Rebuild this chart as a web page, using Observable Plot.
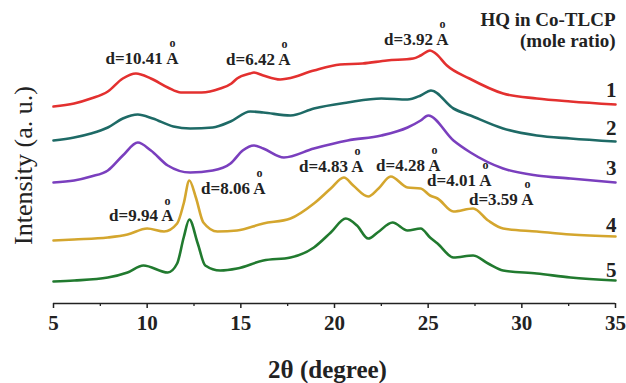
<!DOCTYPE html>
<html><head><meta charset="utf-8">
<script src="https://cdn.jsdelivr.net/npm/d3@7"></script>
<script src="https://cdn.jsdelivr.net/npm/@observablehq/plot@0.6"></script>
<style>body{margin:0;background:#fff} svg{display:block} svg text{font-family:"Liberation Serif","Times New Roman",serif !important}</style>
</head><body><div id="chart"></div>
<script>
// 2θ (degree), intensity (a.u., offset stacked)
const curve1 = [[5.0,197],[6.1,200],[7.0,205],[7.9,212],[8.7,225],[9.4,230],[10.2,225],[11.1,216],[11.8,211],[12.9,211],[13.9,215],[14.5,220],[14.8,225],[15.5,230],[15.7,231],[16.2,228],[17.1,224],[17.5,225],[18.9,233],[20.3,239],[21.5,240],[22.8,243],[24.2,245],[24.6,248],[25.1,253],[25.4,250],[26.0,238],[27.2,225],[29.0,210],[30.8,205],[32.6,202],[35.0,199]];
const curve2 = [[5.0,163],[6.1,166],[7.0,170],[7.9,176],[8.7,185],[9.5,189],[10.3,185],[11.4,177],[12.3,175],[13.5,176],[14.45,182],[15.5,192],[16.2,191],[17.65,188],[18.9,195],[20.7,201],[22.5,205],[23.9,204],[24.6,208],[25.15,213],[26.35,195],[27.26,188],[29.0,175],[30.8,168],[32.6,165],[35.0,162]];
const curve3 = [[5.0,121],[6.1,123],[7.0,127],[7.9,133],[8.7,148],[9.5,161],[10.2,153],[11.1,138],[12.3,131],[13.5,133],[14.45,140],[15.1,153],[15.7,158],[16.2,155],[17.3,146],[18.9,155],[20.7,163],[22.5,168],[23.9,176],[24.6,183],[25.0,188],[26.35,163],[27.26,151],[29.0,135],[30.8,128],[32.6,125],[35.0,121]];
const curve4 = [[5.0,63],[6.1,64],[7.9,66],[8.95,69],[10.0,75],[10.9,72],[11.6,80],[11.95,100],[12.25,123],[12.6,106],[13.0,81],[13.75,72],[14.8,73],[16.2,80],[17.65,85],[18.9,100],[19.8,115],[20.5,126],[21.0,118],[21.8,107],[22.35,115],[23.0,127],[23.9,116],[24.6,115],[25.1,108],[25.5,105],[26.35,92],[27.4,95],[28.2,83],[29.0,75],[30.8,72],[32.6,69],[35.0,67]];
const curve5 = [[5.0,22],[6.1,23],[7.9,26],[8.95,31],[9.8,38],[11.1,31],[11.6,40],[11.95,66],[12.25,84],[12.7,60],[13.1,38],[13.9,33],[14.8,35],[16.2,43],[17.65,46],[18.9,56],[19.8,71],[20.6,85],[21.2,78],[21.8,65],[22.3,71],[23.1,81],[23.9,73],[24.6,75],[25.1,66],[25.5,60],[26.35,46],[27.4,48],[28.2,40],[29.0,33],[30.8,30],[32.6,26],[35.0,23]];

const seriesNames = ["1","2","3","4","5"];
const seriesColors = ["#e3302f","#1e6a66","#7a3fbe","#d4a62e","#217a2f"];
const seriesLabelY = [213,175,135,78,33];

const majorTicks = [5,10,15,20,25,30,35];
const minorTicks = [7.5,12.5,17.5,22.5,27.5,32.5];

// d-spacing annotations: text end position (2θ, intensity)
const annoText = ["d=10.41 A","d=6.42 A","d=3.92 A","d=8.06 A","d=9.94 A","d=4.83 A","d=4.28 A","d=4.01 A","d=3.59 A"];
const annoX = [11.67,17.65,26.09,16.32,11.41,21.55,25.66,28.38,30.62];
const annoY = [245,244,264,115,87.5,137,138,123,104];

const legendLines = ["HQ in Co-TLCP","(mole ratio)"];
const legendY = [284,263];

const table = [curve1,curve2,curve3,curve4,curve5].flatMap((c,i) =>
  c.map(([x,y]) => ({series: seriesNames[i], x, y})));
const annos = annoText.map((t,i) => ({label: t, x: annoX[i], y: annoY[i]}));
const labels = seriesNames.map((s,i) => ({s, y: seriesLabelY[i]}));
const legend = legendLines.map((t,i) => ({t, y: legendY[i]}));

const font = "Liberation Serif";
const chart = Plot.plot({
  width: 626, height: 383,
  marginLeft: 53, marginRight: 11, marginTop: 43, marginBottom: 80,
  style: {fontFamily: font, background: "white", overflow: "visible", color: "#222"},
  x: {domain: [5,35]},
  y: {domain: [0,260], axis: null},
  color: {domain: seriesNames, range: seriesColors},
  marks: [
    Plot.axisX(majorTicks, {tickSize: 5, tickPadding: 7, fontSize: 21, fontWeight: "bold", fontFamily: font, label: null, strokeWidth: 1.5}),
    Plot.axisX(minorTicks, {tickSize: 3, tickFormat: () => "", label: null, strokeWidth: 1.3}),
    Plot.ruleY([0], {stroke: "#222", strokeWidth: 1.6}),
    Plot.line(table, {x: "x", y: "y", z: "series", stroke: "series", curve: "monotone-x", strokeWidth: 2.6}),
    Plot.text(annos, {x: "x", y: "y", text: "label", textAnchor: "end", lineAnchor: "middle", fontSize: 17, fontWeight: "bold", fontFamily: font, fill: "#222"}),
    Plot.text(annos, {x: "x", y: "y", text: () => "o", textAnchor: "middle", lineAnchor: "middle", dx: -6, dy: -15, fontSize: 12, fontWeight: "bold", fontFamily: font, fill: "#222"}),
    Plot.text(labels, {x: 35, y: "y", text: "s", textAnchor: "end", lineAnchor: "middle", dx: 1, fontSize: 21, fontWeight: "bold", fontFamily: font, fill: "#222"}),
    Plot.text(legend, {x: 35, y: "y", text: "t", textAnchor: "end", lineAnchor: "middle", fontSize: 19, fontWeight: "bold", fontFamily: font, fill: "#222"}),
    Plot.text(["2θ (degree)"], {text: d => d, frameAnchor: "bottom", dx: -7, dy: 66, lineAnchor: "middle", fontSize: 25, fontWeight: "bold", fontFamily: font, fill: "#222"}),
    Plot.text(["Intensity (a. u.)"], {text: d => d, frameAnchor: "left", rotate: -90, textAnchor: "middle", dx: -30, dy: -8, lineAnchor: "middle", fontSize: 26, fontFamily: font, fill: "#222"})
  ]
});
document.getElementById("chart").appendChild(chart);
</script>
</body></html>
